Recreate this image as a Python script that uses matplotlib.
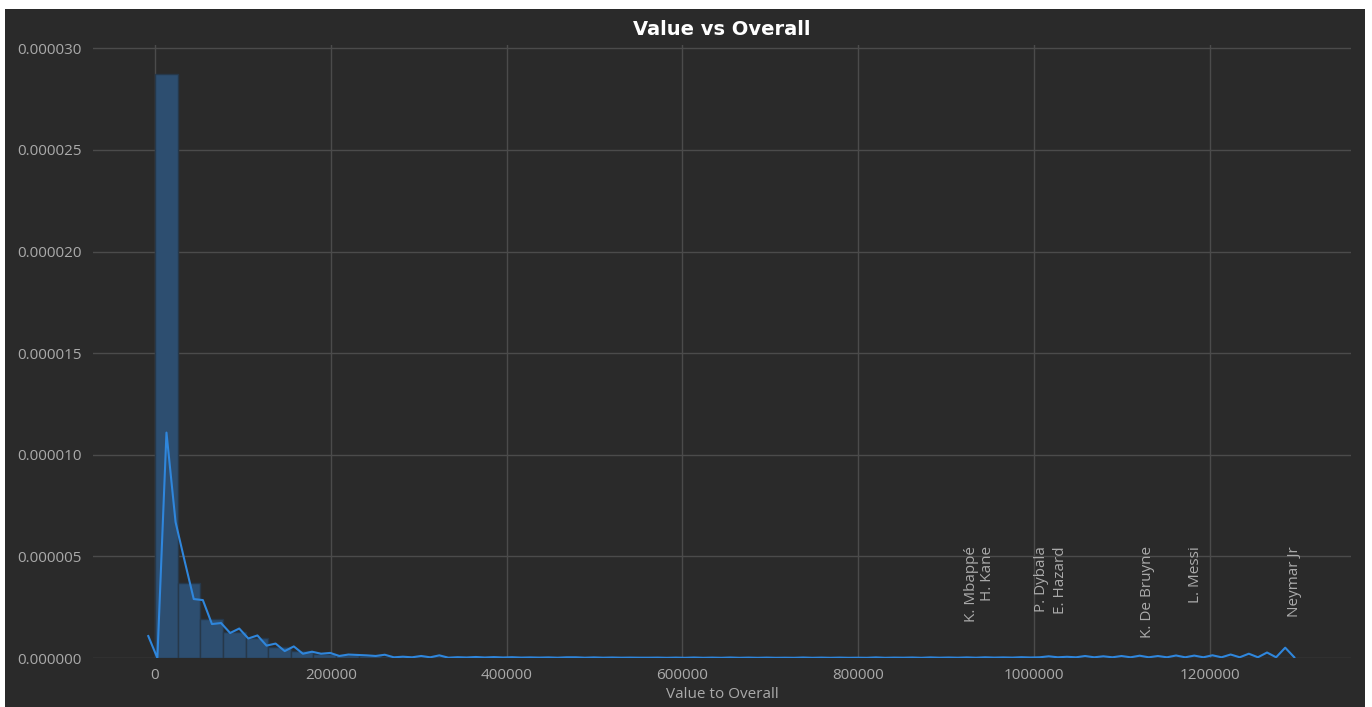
import matplotlib
matplotlib.use("Agg")
import matplotlib.pyplot as plt
import numpy as np
from matplotlib.patches import Rectangle
from matplotlib.ticker import FormatStrFormatter

# histogram (50 bins over 0 .. max value), density in units of 1e-7
BIN_MAX = 1288043
hist_density = [287.2, 36.9, 19.4, 13.0, 9.8, 5.4, 3.3, 2.1, 1.3, 0.9,
                0.6, 0.45, 0.35, 0.25, 0.2, 0.15, 0.12, 0.1, 0.08, 0.06,
                0.05, 0.04, 0.04, 0.03, 0.03, 0.03, 0.02, 0.02, 0.02, 0.02,
                0.02, 0.01, 0.02, 0.01, 0.01, 0.01, 0.02, 0.01, 0.01, 0.01,
                0.01, 0.01, 0.01, 0.01, 0.01, 0.01, 0.01, 0.01, 0.01, 0.02]

# density line, sampled on its support grid, units of 1e-7
LINE_START, LINE_END = -7620, 1296100
line_density = [10.8, 0.0, 110.9, 66.9, 47.7, 29.0, 28.5, 16.7, 17.2, 12.3,
                14.5, 9.6, 11.1, 6.1, 7.1, 3.4, 5.7, 2.1, 3.1, 2.1,
                2.5, 1.0, 1.7, 1.5, 1.3, 1.0, 1.6, 0.34, 0.64, 0.34,
                1.0, 0.34, 1.3, 0.15, 0.40, 0.25, 0.50, 0.25, 0.45, 0.25,
                0.40, 0.20, 0.30, 0.20, 0.30, 0.15, 0.35, 0.35, 0.15, 0.30,
                0.15, 0.25, 0.15, 0.20, 0.15, 0.15, 0.20, 0.10, 0.20, 0.10,
                0.25, 0.10, 0.20, 0.10, 0.25, 0.10, 0.20, 0.10, 0.20, 0.10,
                0.15, 0.10, 0.25, 0.10, 0.20, 0.10, 0.20, 0.10, 0.15, 0.10,
                0.30, 0.10, 0.20, 0.15, 0.25, 0.10, 0.30, 0.15, 0.25, 0.15,
                0.30, 0.15, 0.35, 0.20, 0.30, 0.20, 0.40, 0.25, 0.35, 0.84,
                0.35, 0.60, 0.35, 0.98, 0.35, 0.84, 0.35, 0.98, 0.35, 1.13,
                0.35, 0.98, 0.35, 1.23, 0.35, 1.18, 0.35, 1.33, 0.35, 1.72,
                0.35, 2.11, 0.35, 2.70, 0.35, 5.07, 0.34]

players = ["K. Mbappé", "H. Kane", "P. Dybala", "E. Hazard",
           "K. De Bruyne", "L. Messi", "Neymar Jr"]
player_ratio = [920454, 938202, 1000000, 1021978, 1120879, 1175532, 1288043]

BG = "#2a2a2a"
TXT = "#aaaaaa"

plt.rcParams["font.family"] = ["Open Sans", "DejaVu Sans"]

fig = plt.figure(figsize=(13.72, 7.07), dpi=100, facecolor="white")
bg_rect = Rectangle((5 / 1372, 0), 1360 / 1372, 698 / 707,
                    transform=fig.transFigure, facecolor=BG,
                    edgecolor="none", zorder=-10)
fig.patches.append(bg_rect)
ax = fig.add_axes([93 / 1372, 49 / 707, (1351 - 93) / 1372, (658 - 45) / 707])
ax.set_zorder(1)
ax.set_facecolor(BG)

edges = np.linspace(0, BIN_MAX, len(hist_density) + 1)
hist_vals = np.array(hist_density) * 1e-7
ax.bar(edges[:-1], hist_vals, width=edges[1] - edges[0], align="edge",
       color="#2d4e70", edgecolor="#26384a", linewidth=1, zorder=2)

line_x = np.linspace(LINE_START, LINE_END, len(line_density))
ax.plot(line_x, np.array(line_density) * 1e-7, color="#2f86dc", lw=1.5, zorder=3)

for name, val in zip(players, player_ratio):
    ax.text(val, 5.5e-6, name, rotation=90, ha="left", va="top",
            color=TXT, fontsize=11, zorder=4)

ax.set_xlim(-70500, 1360600)
ax.set_ylim(0, 3.016e-5)
ax.set_xticks([0, 200000, 400000, 600000, 800000, 1000000, 1200000])
ax.yaxis.set_major_formatter(FormatStrFormatter("%.6f"))
ax.ticklabel_format(axis="x", style="plain")

ax.grid(True, color="#4b4b4b", lw=1, zorder=1)
ax.set_axisbelow(True)
for s in ax.spines.values():
    s.set_visible(False)
ax.tick_params(axis="both", length=0, labelsize=11, colors=TXT)
ax.tick_params(axis="y", pad=8)
ax.tick_params(axis="x", pad=7)

ax.set_title("Value vs Overall", fontsize=14, fontweight="bold",
             color="white", family="DejaVu Sans", pad=7)
ax.set_xlabel("Value to Overall", fontsize=11, color=TXT, labelpad=3)

fig.savefig("out.png", dpi=100, facecolor=fig.get_facecolor())
